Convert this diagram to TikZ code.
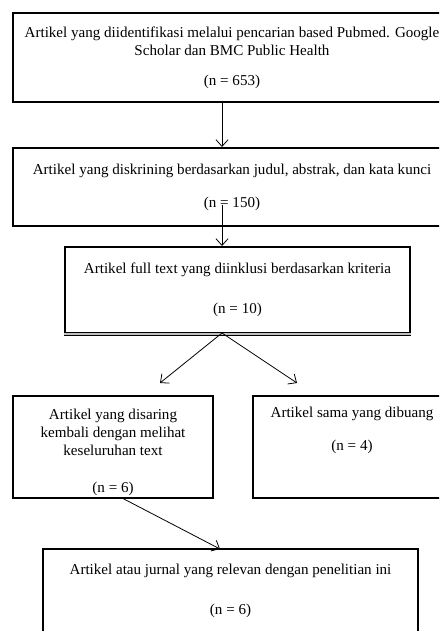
\documentclass[tikz,border=0pt]{standalone}
\usepackage{fontspec}
\setmainfont{Liberation Serif}
\usepackage{tikz}
\usetikzlibrary{arrows.meta, positioning, calc}

\begin{document}
\begin{tikzpicture}[
    x=0.75pt, y=-0.75pt,
    flowbox/.style={draw, line width=1.5pt, align=center, inner sep=0pt,
                 font=\fontsize{11.3}{13.6}\selectfont},
    arrow/.style={-{Straight Barb[length=5pt, width=9pt]}, line width=0.6pt},
  ]
    \useasboundingbox (0,0) rectangle (439,631);
    \clip (0,0) rectangle (439,631);

    % Identification
    \node[flowbox, minimum width=328.5pt, minimum height=66.75pt] (ident) at (232,57.5)
      {Artikel yang diidentifikasi melalui pencarian based Pubmed. Google\\
       Scholar dan BMC Public Health\\[9pt] (n = 653)};

    % Screening
    \node[flowbox, minimum width=328.5pt, minimum height=58.5pt] (screen) at (232,187)
      {Artikel yang diskrining berdasarkan judul, abstrak, dan kata kunci\\[11pt]
       (n = 150)};

    % Full text included
    \node[flowbox, minimum width=258.75pt, minimum height=64.5pt] (incl) at (237.5,290)
      {Artikel full text yang diinklusi berdasarkan kriteria\\[16pt] (n = 10)};
    \draw[line width=0.6pt, double=gray!50, double distance=1.2pt]
      (incl.south west) -- (incl.south east);

    % Re-filtered
    \node[flowbox, minimum width=150pt, minimum height=76.5pt] (filt) at (113,447)
      {\mbox{}\\[2pt] Artikel yang disaring\\ kembali dengan melihat\\
       keseluruhan text\\[14pt] (n = 6)};

    % Duplicates
    \node[flowbox, minimum width=148.5pt, minimum height=76.5pt] (dup) at (352,447)
      {Artikel sama yang dibuang\\[11pt] (n = 4)\\[14pt] \mbox{}};

    % Relevant
    \node[flowbox, minimum width=281.25pt, minimum height=63pt] (relev) at (230.5,591)
      {Artikel atau jurnal yang relevan dengan penelitian ini\\[16pt] (n = 6)};

    % Arrows
    \coordinate (split) at (222,333);
    \coordinate (in150) at (222,205);
    \coordinate (out6) at (122,498);
    \coordinate (in6) at (220,549);

    \draw[arrow] (ident.south -| split) -- (screen.north -| split);
    \draw[arrow] (in150) -- (incl.north -| split);
    \draw[arrow] (split) -- (160,383);
    \draw[arrow] (split) -- (297,383);
    \draw[arrow] (out6) -- (in6);
  \end{tikzpicture}
\end{document}
